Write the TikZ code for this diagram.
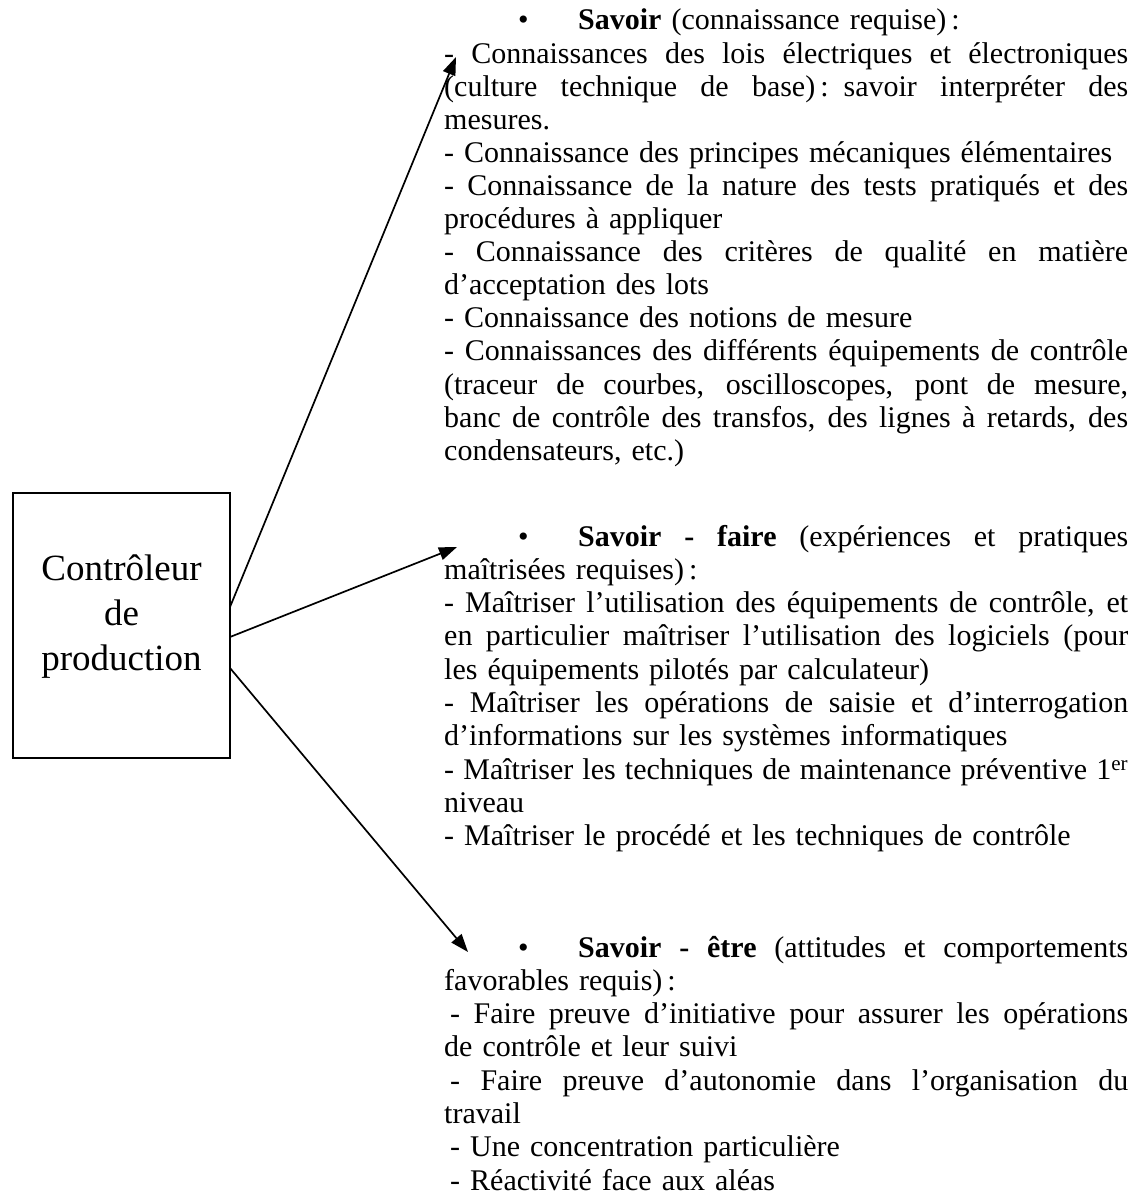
\documentclass[tikz,border=0pt]{standalone}
\usepackage{fontspec}
\setmainfont{Liberation Serif}
\usetikzlibrary{arrows.meta}

% one line set to the full column width (justified) or left as is;
% the lines are stacked in vertical mode
\newcommand{\jl}[1]{\hbox to 684pt{\spaceskip=\fontdimen2\font plus 1fil\relax #1}}
\newcommand{\fl}[1]{\hbox to 684pt{#1\hfil}}
\newcommand{\bul}{\hspace*{74pt}\makebox[60pt][l]{\textbullet}}

\tikzset{
  role/.style={draw, line width=2pt, minimum width=217pt, minimum height=265pt, inner sep=0pt},
  roletext/.style={align=center, font=\fontsize{37}{45}\selectfont, inner sep=0pt},
  block/.style={anchor=base west, inner sep=0pt, text width=684pt,
    font=\fontsize{30}{33.3}\selectfont},
  arr/.style={line width=1.7pt, -{Triangle[length=18pt,width=13pt]}}
}

\begin{document}
\begin{tikzpicture}[x=1pt,y=-1pt]
\useasboundingbox (0,0) rectangle (1132,1196);

% central box
\node[role] (ctrl) at (121.5,625.5) {};
\node[roletext] (ctrltxt) at (121.5,617) {Contrôleur\\de\\production};

% savoir
\node[block, font=\fontsize{30}{33.1}\selectfont] (savoir) at (444,30) {%
\fl{\bul\textbf{Savoir} (connaissance requise)\,:}
\jl{- Connaissances des lois électriques et électroniques}
\jl{(culture technique de base)\,: savoir interpréter des}
\fl{mesures.}
\fl{- Connaissance des principes mécaniques élémentaires}
\jl{- Connaissance de la nature des tests pratiqués et des}
\fl{procédures à appliquer}
\jl{- Connaissance des critères de qualité en matière}
\fl{d’acceptation des lots}
\fl{- Connaissance des notions de mesure}
\jl{- Connaissances des différents équipements de contrôle}
\jl{(traceur de courbes, oscilloscopes, pont de mesure,}
\jl{banc de contrôle des transfos, des lignes à retards, des}
\fl{condensateurs, etc.)}};

% savoir-faire
\node[block] (faire) at (444,546) {%
\jl{\bul\textbf{Savoir - faire} (expériences et pratiques}
\fl{maîtrisées requises)\,:}
\jl{- Maîtriser l’utilisation des équipements de contrôle, et}
\jl{en particulier maîtriser l’utilisation des logiciels (pour}
\fl{les équipements pilotés par calculateur)}
\jl{- Maîtriser les opérations de saisie et d’interrogation}
\fl{d’informations sur les systèmes informatiques}
\jl{- Maîtriser les techniques de maintenance préventive 1\textsuperscript{er}}
\fl{niveau}
\fl{- Maîtriser le procédé et les techniques de contrôle}};

% savoir-etre
\node[block] (etre) at (444,957) {%
\jl{\bul\textbf{Savoir - être} (attitudes et comportements}
\fl{favorables requis)\,:}
\jl{\hspace*{6pt}- Faire preuve d’initiative pour assurer les opérations}
\fl{de contrôle et leur suivi}
\jl{\hspace*{6pt}- Faire preuve d’autonomie dans l’organisation du}
\fl{travail}
\fl{\hspace*{6pt}- Une concentration particulière}
\fl{\hspace*{6pt}- Réactivité face aux aléas}};

% connectors
\coordinate (s1) at (230,607);
\coordinate (s2) at (230,637);
\coordinate (s3) at (230,668);
\coordinate (t1) at (456,57);
\coordinate (t2) at (457,547);
\coordinate (t3) at (468,952);
\draw[arr] (s1) -- (t1);
\draw[arr] (s2) -- (t2);
\draw[arr] (s3) -- (t3);
\end{tikzpicture}
\end{document}
